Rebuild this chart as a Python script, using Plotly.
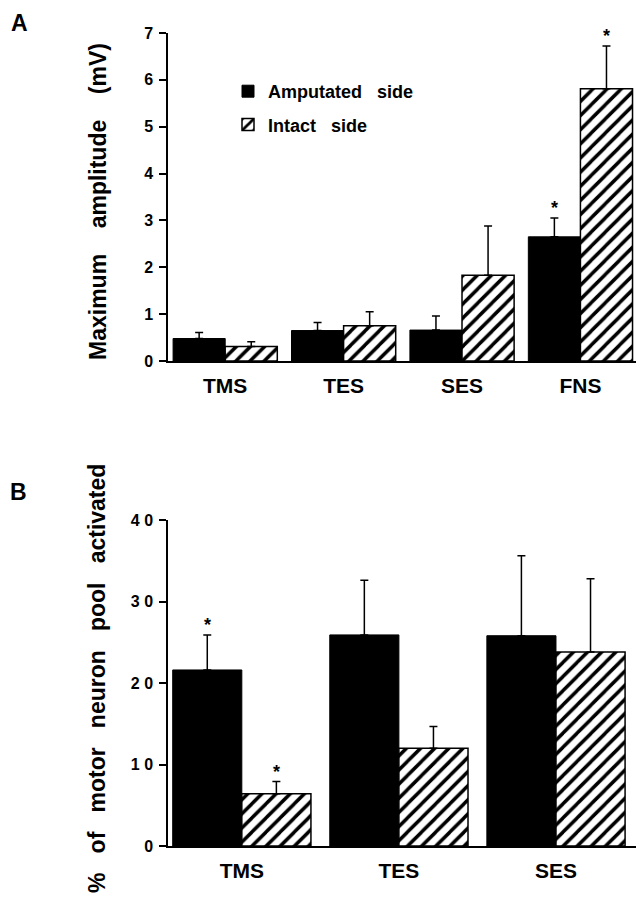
import plotly.graph_objects as go

# ---------------- data ----------------
cats_a = ["TMS", "TES", "SES", "FNS"]
amp_a = [0.48, 0.65, 0.66, 2.65]
amp_a_err = [0.13, 0.17, 0.30, 0.40]
int_a = [0.31, 0.75, 1.83, 5.81]
int_a_err = [0.10, 0.30, 1.05, 0.91]
stars_a = [("FNS", "amp"), ("FNS", "int")]

cats_b = ["TMS", "TES", "SES"]
amp_b = [21.6, 25.9, 25.8]
amp_b_err = [4.3, 6.7, 9.8]
int_b = [6.4, 12.0, 23.8]
int_b_err = [1.5, 2.65, 9.0]
stars_b = [("TMS", "amp"), ("TMS", "int")]

ticks_a = [0, 1, 2, 3, 4, 5, 6, 7]
ticks_b = [0, 10, 20, 30, 40]
ticktext_b = ["0", "1 0", "2 0", "3 0", "4 0"]

name_amp = "Amputated   side"
name_int = "Intact   side"
title_a = "Maximum    amplitude    (mV)"
title_b = "%   of   motor   neuron   pool   activated"

# ---------------- layout constants ----------------
# the page body has an 8px margin, so the figure starts at screen pixel 8
OFF = 8
W, H = 644 - OFF, 900 - OFF
ML, MR = 168 - OFF, 2
MT = 33 - OFF
MB = H - (846 - OFF)
PW, PH = W - ML - MR, H - MT - MB
BARGAP = 0.12
FONT = "Liberation Sans, Arial, sans-serif"


def py(pix):  # screen pixel -> paper y
    return (H - MB - (pix - OFF)) / PH


def px(pix):  # screen pixel -> paper x
    return ((pix - OFF) - ML) / PW


err_style = dict(type="data", symmetric=False, color="black", thickness=1.5, width=4)
amp_marker = dict(color="black", line=dict(color="black", width=1))
int_marker = dict(color="white", line=dict(color="black", width=1.5),
                  pattern=dict(shape="/", fillmode="replace", fgcolor="black", fgopacity=1,
                               bgcolor="white", size=10, solidity=0.35))

fig = go.Figure()
fig.add_trace(go.Bar(x=cats_a, y=amp_a, name=name_amp, legendgroup="a", marker=amp_marker,
                     error_y=dict(array=amp_a_err, arrayminus=[0] * len(amp_a), **err_style),
                     xaxis="x", yaxis="y"))
fig.add_trace(go.Bar(x=cats_a, y=int_a, name=name_int, legendgroup="b", marker=int_marker,
                     error_y=dict(array=int_a_err, arrayminus=[0] * len(int_a), **err_style),
                     xaxis="x", yaxis="y"))
fig.add_trace(go.Bar(x=cats_b, y=amp_b, name=name_amp, legendgroup="a", showlegend=False, marker=amp_marker,
                     error_y=dict(array=amp_b_err, arrayminus=[0] * len(amp_b), **err_style),
                     xaxis="x2", yaxis="y2"))
fig.add_trace(go.Bar(x=cats_b, y=int_b, name=name_int, legendgroup="b", showlegend=False, marker=int_marker,
                     error_y=dict(array=int_b_err, arrayminus=[0] * len(int_b), **err_style),
                     xaxis="x2", yaxis="y2"))

off = (1 - BARGAP) / 4
annots = []


def add_stars(stars, cats, amp, amp_err, inten, inten_err, xr, yr):
    for cat, which in stars:
        i = cats.index(cat)
        if which == "amp":
            x, y = i - off, amp[i] + amp_err[i]
        else:
            x, y = i + off, inten[i] + inten_err[i]
        annots.append(dict(x=x, y=y, xref=xr, yref=yr, text="*", showarrow=False,
                           xanchor="center", yanchor="bottom", yshift=-2,
                           font=dict(size=18, color="black", family=FONT, weight="bold")))


add_stars(stars_a, cats_a, amp_a, amp_a_err, int_a, int_a_err, "x", "y")
add_stars(stars_b, cats_b, amp_b, amp_b_err, int_b, int_b_err, "x2", "y2")

big = dict(color="black", family=FONT, weight="bold")
# panel letters and y titles
annots.append(dict(x=px(9), y=py(8), xref="paper", yref="paper", text="A", showarrow=False,
                   xanchor="left", yanchor="top", font=dict(big, size=23)))
annots.append(dict(x=px(18), y=py(492), xref="paper", yref="paper", text="B", showarrow=False,
                   xanchor="center", yanchor="middle", font=dict(big, size=23)))
annots.append(dict(x=px(98), y=py(202), xref="paper", yref="paper", text=title_a, textangle=-90,
                   xanchor="center", yanchor="middle", showarrow=False, font=dict(big, size=23)))
annots.append(dict(x=px(97), y=py(679), xref="paper", yref="paper", text=title_b, textangle=-90,
                   xanchor="center", yanchor="middle", showarrow=False, font=dict(big, size=23)))

axis_common = dict(showline=True, linecolor="black", linewidth=1.5, showgrid=False, zeroline=False,
                   automargin=False)
xcommon = dict(axis_common, ticks="", tickfont=dict(big, size=21), ticklabelstandoff=5)
ycommon = dict(axis_common, ticks="outside", ticklen=7, tickwidth=1.5, tickcolor="black",
               tickfont=dict(big, size=16), ticklabelstandoff=3)

fig.update_layout(
    width=W, height=H,
    margin=dict(l=ML, r=MR, t=MT, b=MB),
    paper_bgcolor="white", plot_bgcolor="white",
    barmode="group", bargap=BARGAP, bargroupgap=0,
    font=dict(family=FONT, color="black"),
    xaxis=dict(xcommon, domain=[0, 1], anchor="y", range=[-0.483, 3.52]),
    yaxis=dict(ycommon, domain=[py(361), py(33)], anchor="x", range=[0, 7], tickvals=ticks_a),
    xaxis2=dict(xcommon, domain=[0, px(640)], anchor="y2", range=[-0.47, 2.535]),
    yaxis2=dict(ycommon, domain=[py(846), py(520)], anchor="x2", range=[0, 40],
                tickvals=ticks_b, ticktext=ticktext_b),
    legend=dict(x=px(228), y=py(73), xanchor="left", yanchor="top", bgcolor="rgba(0,0,0,0)",
                font=dict(big, size=18),
                traceorder="grouped", tracegroupgap=7),
    annotations=annots,
)

fig.write_html("out.html")
